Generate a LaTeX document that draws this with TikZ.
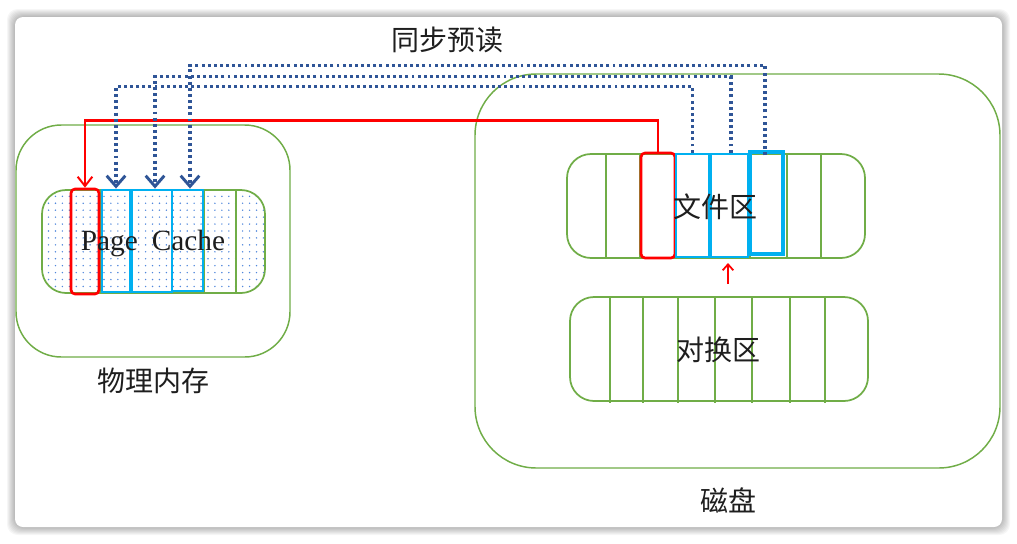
\documentclass[tikz,border=0pt]{standalone}
\usepackage{fontspec}
\setmainfont{Liberation Serif}
\newfontfamily\cjk{Noto Sans CJK SC}
\usetikzlibrary{arrows.meta,patterns.meta,calc}
\definecolor{grn}{RGB}{112,173,71}
\definecolor{cyanb}{RGB}{0,176,240}
\definecolor{dblue}{RGB}{47,85,151}
\definecolor{dotc}{RGB}{80,135,220}
\definecolor{txt}{RGB}{30,30,30}
\begin{document}
\begin{tikzpicture}[x=0.75pt,y=-0.75pt,
  bigarea/.style={draw=grn,line width=1.1pt,rounded corners=34pt},
  diskarea/.style={draw=grn,line width=1.1pt,rounded corners=46pt},
  strip/.style={draw=grn,line width=1.3pt,rounded corners=18pt},
  vline/.style={draw=grn,line width=1.5pt},
  redcell/.style={draw=red,line width=2pt,rounded corners=3pt,inner sep=0pt},
  bluecell/.style={draw=cyanb,line width=2.1pt,inner sep=0pt},
  cjklabel/.style={font=\cjk\fontsize{21}{24}\selectfont,text=txt,inner sep=0pt},
  redarrow/.style={draw=red,line width=1.8pt,-{Straight Barb[length=7pt,width=11pt,line width=1.5pt]}},
  bluedot/.style={draw=dblue,line width=2.8pt,dash pattern=on 2.2pt off 2.4pt,-{Straight Barb[length=8pt,width=14pt,line width=2.2pt]}}
]
% background and card
\fill[white] (0,0) rectangle (1017,543);
\foreach \i in {1,...,8}{
  \fill[black,opacity=0.035,rounded corners=8pt] ({15-\i},{17-\i}) rectangle ({1002+\i},{527+\i});
}
\fill[white,rounded corners=6pt] (15,17) rectangle (1002,527);
\useasboundingbox (0,0) rectangle (1017,543);

% big areas
\draw[bigarea] (16,125) rectangle (290,357);
\draw[diskarea] (475,74) rectangle (1000,468);

% page cache strip
\path[pattern={Dots[distance=5.2pt,radius=0.6pt]},pattern color=dotc,rounded corners=18pt] (42,190) rectangle (265,293);
\draw[strip] (42,190) rectangle (265,293);
\foreach \x in {71,101,131,172,204,236}{\draw[vline] (\x,190) -- (\x,294);}

% file strip
\draw[strip] (567,154) rectangle (865,258);
\foreach \x in {606,640,675,710,750,787,821}{\draw[vline] (\x,154) -- (\x,258);}

% swap strip
\draw[strip] (570,297) rectangle (868,401);
\foreach \x in {610,643,678,715,752,790,825}{\draw[vline] (\x,297) -- (\x,403);}

% page cache cells
\node[redcell,minimum width={28*0.75pt},minimum height={105*0.75pt}] (pr) at (85,241.5) {};
\node[bluecell,minimum width={28*0.75pt},minimum height={102*0.75pt}] (pb1) at (116,241) {};
\node[bluecell,minimum width={40*0.75pt},minimum height={102*0.75pt}] (pb2) at (152,241) {};
\node[bluecell,minimum width={31*0.75pt},minimum height={101*0.75pt}] (pb3) at (187.5,240.5) {};

% file cells
\node[redcell,minimum width={34*0.75pt},minimum height={105*0.75pt}] (fr) at (658,205.5) {};
\node[bluecell,minimum width={33*0.75pt},minimum height={103*0.75pt}] (fb1) at (692.5,205.5) {};
\node[bluecell,minimum width={37*0.75pt},minimum height={103*0.75pt}] (fb2) at (729.5,205.5) {};
\node[bluecell,line width=2.6pt,minimum width={33*0.75pt},minimum height={102*0.75pt}] (fb3) at (766.5,203) {};

% texts
\node[font=\fontsize{22}{26}\selectfont,text=txt,inner sep=0pt] (pc) at (153,243) {Page\hspace{5pt} Cache};
\node[cjklabel] (wj) at (715,207) {文件区};
\node[cjklabel] (dh) at (718,350) {对换区};
\node[cjklabel] (wl) at (153,381) {物理内存};
\node[cjklabel] (cp) at (728,500) {磁盘};
\node[cjklabel] (tb) at (447,40) {同步预读};

% connectors
\draw[redarrow] (fr.north) |- ($(pr.north)+(0,-67)$) -- (pr.north);
\draw[bluedot] (fb1.north) |- ($(pb1.north)+(0,-102)$) -- (pb1.north);
\draw[bluedot] ($(fb2.north)+(1.5,0)$) |- ($(pb2.north)+(3,-112)$) -- ($(pb2.north)+(3,0)$);
\draw[bluedot] ($(fb3.north)+(-1.5,5)$) |- ($(pb3.north)+(2.5,-123)$) -- ($(pb3.north)+(2.5,0)$);

% small red arrow
\coordinate (sa) at (728,284);
\coordinate (sb) at (728,263);
\draw[redarrow,line width=1.4pt,-{Straight Barb[length=4.5pt,width=8pt,line width=1.3pt]}] (sa) -- (sb);
\end{tikzpicture}
\end{document}
